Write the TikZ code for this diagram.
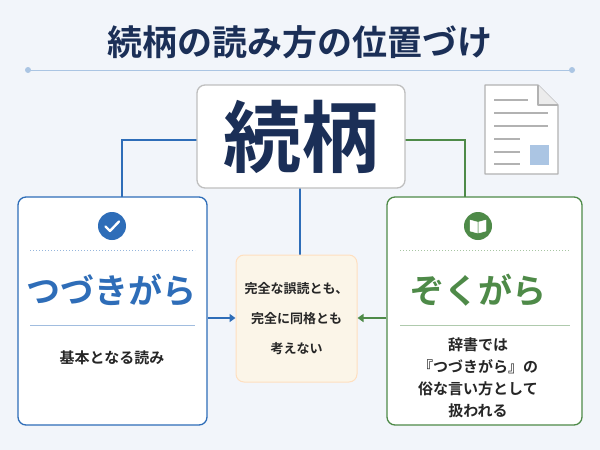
\documentclass[tikz,border=0pt]{standalone}
\usepackage{fontspec}
\newfontfamily\cjk{Noto Sans CJK JP}[BoldFont={Noto Sans CJK JP Bold}]
\usetikzlibrary{arrows.meta}
\definecolor{navy}{HTML}{1B2F57}
\definecolor{bl}{HTML}{2E6DB8}
\definecolor{gr}{HTML}{4E8A48}
\definecolor{bg}{HTML}{F2F5FA}
\definecolor{beige}{HTML}{FBF5E8}
\begin{document}
\begin{tikzpicture}[x=1pt,y=-1pt,font=\cjk,
 box/.style={draw,rounded corners=8pt,line width=1.3pt,fill=white},
 conn/.style={line width=1.4pt},
 arr/.style={line width=1.8pt,-{Triangle[length=6pt,width=8pt]}},
 body/.style={font=\cjk\bfseries\fontsize{15}{22}\selectfont,text=black!85,align=center},
 mbody/.style={font=\cjk\bfseries\fontsize{13}{30}\selectfont,text=black!85,align=center}]
\fill[bg] (0,0) rectangle (600,450);
\useasboundingbox (0,0) rectangle (600,450);
\node[text=navy,font=\cjk\bfseries\fontsize{35}{40}\selectfont] (title) at (300,42) {続柄の読み方の位置づけ};
\draw[bl!40,line width=1pt] (28,70) -- (572,70);
\fill[bl!40] (28,70) circle (3) (572,70) circle (3);
% connectors
\coordinate (cl) at (122,140); \coordinate (cr) at (465,140);
\draw[conn,bl] (197,140) -- (cl) -- (122,198);
\draw[conn,gr] (405,140) -- (cr) -- (465,198);
\draw[conn,bl] (300,188) -- (300,256);
% boxes
\node[box,draw=gray!50,minimum width=208,minimum height=103,text=navy,font=\cjk\bfseries\fontsize{78}{80}\selectfont] (main) at (301,136.5) {続柄};
\node[box,draw=bl,minimum width=189,minimum height=228] (L) at (112.5,311) {};
\node[box,draw=gr,minimum width=195,minimum height=228] (R) at (484.5,311) {};
\node[draw=orange!25,fill=beige,rounded corners=8pt,line width=1pt,minimum width=121,minimum height=127] (M) at (296.5,318.5) {};
\node[mbody] (mt) at (M) {完全な誤読とも、\\完全に同格とも\\考えない};
% left content
\node[circle,fill=bl,minimum size=28] (ic1) at (112,226) {};
\draw[white,line width=2.4pt,line cap=round,line join=round] (105.5,226.5) -- (110,231) -- (119,221.5);
\draw[bl!50,dotted,line width=1pt] (30,250) -- (195,250);
\node[text=bl,font=\cjk\bfseries\fontsize{34}{36}\selectfont] (lt) at (112,290) {つづきがら};
\draw[bl!45,line width=1pt] (30,325) -- (195,325);
\node[body] (lb) at (112,358) {基本となる読み};
% right content
\node[circle,fill=gr,minimum size=28] (ic2) at (478,226) {};
\draw[white,fill=white] (470,220) -- (477.3,222) -- (477.3,233) -- (470,231) -- cycle;
\draw[white,fill=white] (486,220) -- (478.7,222) -- (478.7,233) -- (486,231) -- cycle;
\draw[gr!50,dotted,line width=1pt] (400,250) -- (570,250);
\node[text=gr,font=\cjk\bfseries\fontsize{34}{36}\selectfont] (rt) at (478,290) {ぞくがら};
\draw[gr!45,line width=1pt] (400,325) -- (570,325);
\node[body] (rb) at (478,378) {辞書では\\『つづきがら』の\\俗な言い方として\\扱われる};
% arrows
\draw[arr,bl] (L.east|-0,318) -- (M.west|-0,318);
\draw[arr,gr] (R.west|-0,318) -- (M.east|-0,318);
% doc icon
\draw[gray!60,fill=white,line width=1.2pt,line join=round] (485,85) -- (538,85) -- (558,105) -- (558,174) -- (485,174) -- cycle;
\draw[gray!60,fill=gray!15,line width=1.2pt,line join=round] (538,85) -- (538,105) -- (558,105);
\foreach \y/\e in {100/528,113/548,126/548,139/520,152/520,164/520}
  \draw[gray!60,line width=1.5pt] (494,\y) -- (\e,\y);
\fill[bl!40] (530,145) rectangle (549,165);
\end{tikzpicture}
\end{document}
